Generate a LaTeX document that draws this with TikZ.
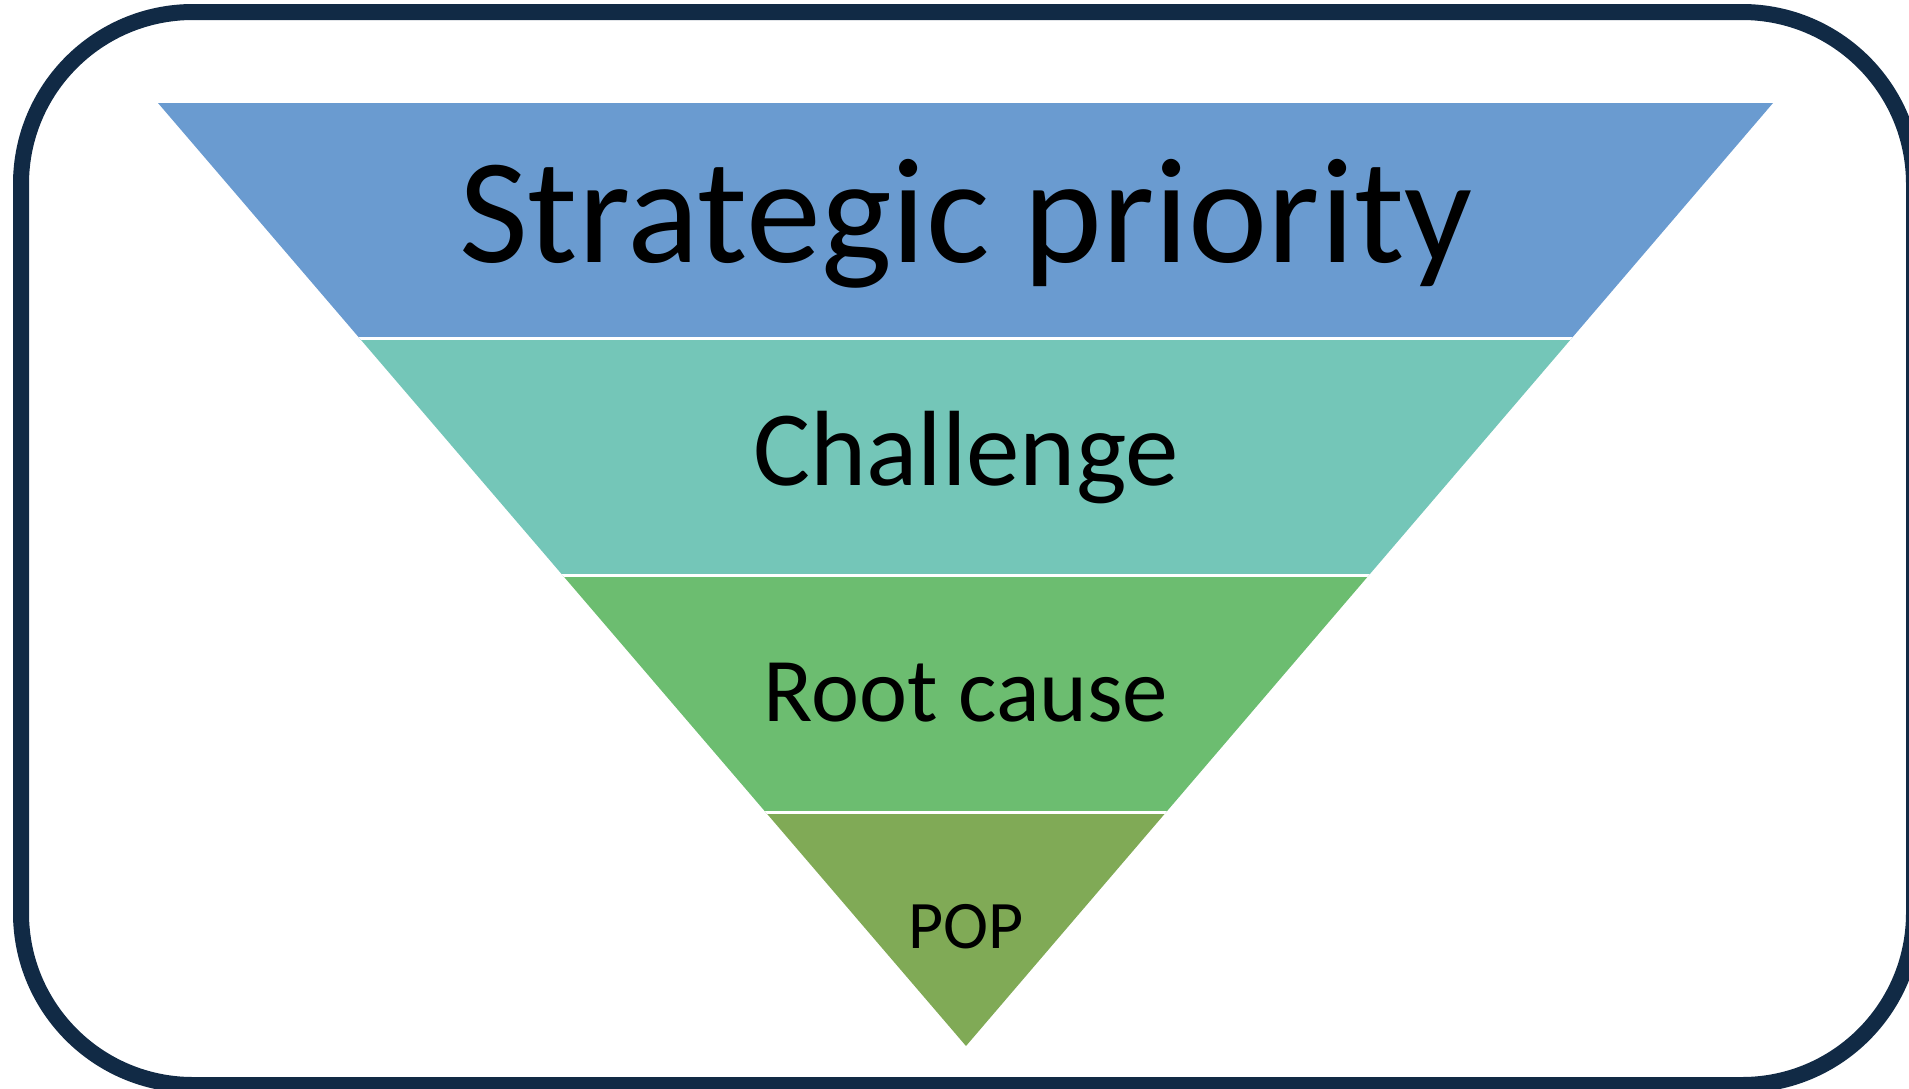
\documentclass[tikz,border=0pt]{standalone}
\usepackage{fontspec}
\setmainfont{Carlito}
\definecolor{framenavy}{RGB}{17,42,69}
\definecolor{bandblue}{RGB}{106,155,208}
\definecolor{bandteal}{RGB}{116,198,184}
\definecolor{bandgreen}{RGB}{108,189,112}
\definecolor{bandolive}{RGB}{128,170,86}
\tikzset{
  bandlabel/.style={anchor=base, inner sep=0pt, text=black},
  gapline/.style={draw=white, line width=3.5}
}
\begin{document}
\begin{tikzpicture}[x=1pt,y=1pt,yscale=-1]
\useasboundingbox (0,0) rectangle (1909,1088);

%Shape: Rounded Rectangle (frame)
\draw [framenavy, line width=16, rounded corners=172] (21,12) rectangle (1914,1085);

%Shape: Triangle (funnel), filled band by band
\begin{scope}
\clip (158,103) -- (1773,103) -- (966,1046) -- cycle;
\fill [bandblue]  (100,103) rectangle (1800,338.5);
\fill [bandteal]  (100,338.5) rectangle (1800,575.5);
\fill [bandgreen] (100,575.5) rectangle (1800,812.5);
\fill [bandolive] (100,812.5) rectangle (1800,1050);
%Straight Lines (white gaps between bands)
\draw [gapline] (100,338.5) -- (1800,338.5);
\draw [gapline] (100,575.5) -- (1800,575.5);
\draw [gapline] (100,812.5) -- (1800,812.5);
\end{scope}

% Text Node
\node [bandlabel, font=\fontsize{150}{150}\selectfont] (priority) at (966,262) {Strategic priority};
\node [bandlabel, font=\fontsize{107}{107}\selectfont] (challenge) at (966,485) {Challenge};
\node [bandlabel, font=\fontsize{91}{91}\selectfont] (rootcause) at (966,721) {Root cause};
\node [bandlabel, font=\fontsize{68}{68}\selectfont] (pop) at (966,948) {POP};

\end{tikzpicture}
\end{document}
